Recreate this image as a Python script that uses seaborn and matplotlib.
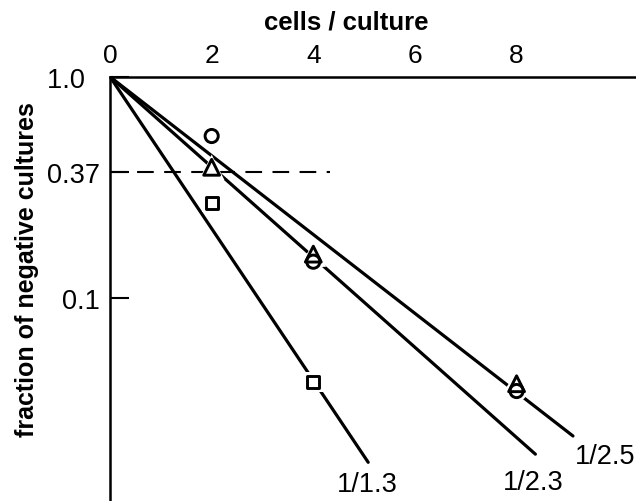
import numpy as np
import pandas as pd
import matplotlib
matplotlib.use("Agg")
import matplotlib.pyplot as plt
import seaborn as sns

# fitted lines, read as start/end points off the figure
line_labels = ["1/1.3", "1/2.3", "1/2.5"]
line_x = [[0, 5.08], [0, 8.37], [0, 9.11]]
line_y = [[1.0, 0.0181], [1.0, 0.0197], [1.0, 0.0238]]

# measured points
circle_x = [2, 4, 8]
circle_y = [0.54, 0.146, 0.038]
triangle_x = [2, 4, 8]
triangle_y = [0.39, 0.158, 0.041]
square_x = [2, 4]
square_y = [0.27, 0.0417]

# label positions at line ends
label_x = [5.06, 8.33, 9.74]
label_y = [0.0144, 0.0147, 0.0193]

x_ticks = [0, 2, 4, 6, 8]
y_ticks = [1.0, 0.37, 0.1]
y_ticklabels = ["1.0  ", "0.37", "0.1"]

sns.set_style("ticks")
plt.rcParams["font.family"] = ["Liberation Sans", "DejaVu Sans"]
plt.rcParams.update({"text.color": "black", "axes.labelcolor": "black",
                     "xtick.color": "black", "ytick.color": "black"})

fig = plt.figure(figsize=(6.36, 5.02), dpi=100)
ax = fig.add_axes([0.173, 0.0, 0.827, 0.845])

lines = pd.DataFrame({
    "x": sum(line_x, []),
    "y": sum(line_y, []),
    "fit": [lab for lab in line_labels for _ in range(2)],
})
sns.lineplot(data=lines, x="x", y="y", units="fit", estimator=None,
             color="black", lw=2.3, ax=ax, zorder=2, sort=False)

# dashed 1/e line
ax.plot([0, 4.33], [0.37, 0.37], color="black", lw=1.5, ls=(0, (8, 5)), zorder=1)

pts = pd.DataFrame({
    "x": circle_x + triangle_x + square_x,
    "y": circle_y + triangle_y + square_y,
    "kind": ["o"] * 3 + ["^"] * 3 + ["s"] * 2,
})
sizes = {"o": 90, "^": 130, "s": 75}
# white halos so the lines break around the symbols
for k, g in pts.groupby("kind"):
    sns.scatterplot(data=g, x="x", y="y", marker=k, s=sizes[k] * 2.6,
                    color="white", edgecolor="none", ax=ax, zorder=3)
for k, g in pts.groupby("kind"):
    sns.scatterplot(data=g, x="x", y="y", marker=k, s=sizes[k],
                    facecolor="none", edgecolor="black", linewidth=2.1,
                    ax=ax, zorder=4)

for lab, lx, ly in zip(line_labels, label_x, label_y):
    ax.text(lx, ly, lab, ha="center", va="center", fontsize=19.5)

ax.set_yscale("log")
ax.set_xlim(0, 10.35)
ax.set_ylim(0.0121, 1.0)
ax.yaxis.set_minor_locator(matplotlib.ticker.NullLocator())

ax.xaxis.tick_top()
ax.xaxis.set_label_position("top")
ax.set_xticks(x_ticks)
ax.set_xticklabels([str(t) for t in x_ticks], fontsize=19)
ax.set_yticks(y_ticks)
ax.set_yticklabels(y_ticklabels, fontsize=19.5)
ax.tick_params(axis="x", direction="in", length=12, width=1.5, pad=7)
ax.tick_params(axis="y", direction="in", length=14, width=1.5, pad=7)

ax.set_xlabel("cells / culture", fontsize=18.5, fontweight="bold", labelpad=8)
ax.set_ylabel("fraction of negative cultures", fontsize=18, fontweight="bold")
ax.xaxis.set_label_coords(0.449, 1.115)
ax.yaxis.set_label_coords(-0.135, 0.547)

sns.despine(ax=ax, top=False, right=True, bottom=True, left=False)
for side in ["top", "left"]:
    ax.spines[side].set_linewidth(1.8)
    ax.spines[side].set_color("black")
ax.set_facecolor("white")

fig.savefig("out.png", dpi=100, facecolor="white")
